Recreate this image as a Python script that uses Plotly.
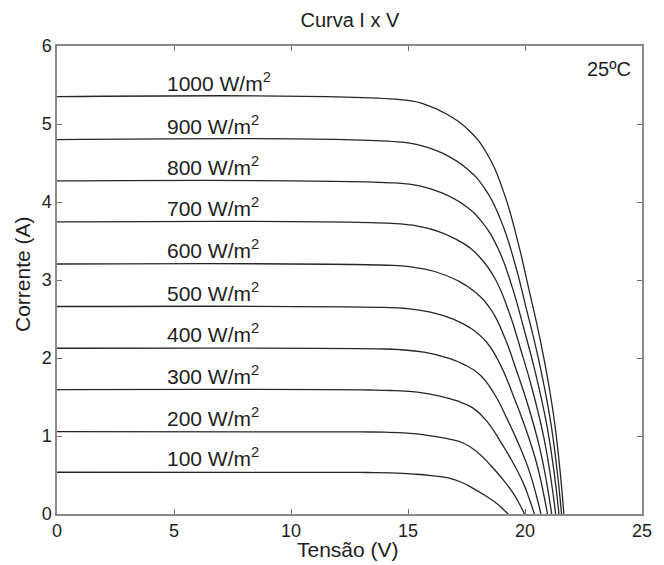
import plotly.graph_objects as go

# Irradiance levels (W/m^2)
irradiance = ["100", "200", "300", "400", "500", "600", "700", "800", "900", "1000"]

# Voltage (V) / current (A) points
v_100 = [0, 12.28, 13.28, 14.28, 15.28, 15.98, 16.68, 17.28, 17.78, 18.28, 18.78, 19.08, 19.28]
i_100 = [0.535, 0.534, 0.532, 0.527, 0.511, 0.493, 0.465, 0.407, 0.329, 0.241, 0.139, 0.059, 0]

v_200 = [0, 12.98, 13.98, 14.98, 15.98, 16.68, 17.38, 17.98, 18.48, 18.98, 19.48, 19.78, 19.98]
i_200 = [1.055, 1.052, 1.049, 1.036, 1.003, 0.966, 0.907, 0.790, 0.640, 0.471, 0.274, 0.118, 0]

v_300 = [0, 13.40, 14.40, 15.40, 16.40, 17.10, 17.80, 18.40, 18.90, 19.40, 19.90, 20.20, 20.40]
i_300 = [1.595, 1.590, 1.582, 1.562, 1.509, 1.450, 1.354, 1.177, 0.954, 0.705, 0.415, 0.180, 0]

v_400 = [0, 13.68, 14.68, 15.68, 16.68, 17.38, 18.08, 18.68, 19.18, 19.68, 20.18, 20.48, 20.68]
i_400 = [2.125, 2.117, 2.106, 2.074, 2.002, 1.919, 1.783, 1.545, 1.254, 0.931, 0.553, 0.244, 0]

v_500 = [0, 13.96, 14.96, 15.96, 16.96, 17.66, 18.36, 18.96, 19.46, 19.96, 20.46, 20.76, 20.96]
i_500 = [2.660, 2.649, 2.633, 2.588, 2.495, 2.386, 2.202, 1.905, 1.548, 1.154, 0.692, 0.311, 0]

v_600 = [0, 14.14, 15.14, 16.14, 17.14, 17.84, 18.54, 19.14, 19.64, 20.14, 20.64, 20.94, 21.14]
i_600 = [3.205, 3.189, 3.167, 3.109, 2.990, 2.852, 2.622, 2.256, 1.836, 1.381, 0.833, 0.378, 0]

v_700 = [0, 14.31, 15.31, 16.31, 17.31, 18.01, 18.71, 19.31, 19.81, 20.31, 20.81, 21.11, 21.31]
i_700 = [3.745, 3.726, 3.696, 3.621, 3.479, 3.311, 3.022, 2.595, 2.116, 1.599, 0.974, 0.449, 0]

v_800 = [0, 14.45, 15.45, 16.45, 17.45, 18.15, 18.85, 19.45, 19.95, 20.45, 20.95, 21.25, 21.45]
i_800 = [4.270, 4.244, 4.210, 4.116, 3.950, 3.749, 3.403, 2.912, 2.378, 1.806, 1.110, 0.521, 0]

v_900 = [0, 14.56, 15.56, 16.56, 17.56, 18.26, 18.96, 19.56, 20.06, 20.56, 21.06, 21.36, 21.56]
i_900 = [4.800, 4.771, 4.723, 4.613, 4.416, 4.181, 3.773, 3.221, 2.630, 2.011, 1.248, 0.590, 0]

v_1000 = [0, 14.66, 15.66, 16.66, 17.66, 18.36, 19.06, 19.66, 20.16, 20.66, 21.16, 21.46, 21.66]
i_1000 = [5.350, 5.313, 5.259, 5.125, 4.901, 4.628, 4.152, 3.531, 2.889, 2.220, 1.391, 0.669, 0]

x_ticks = [0, 5, 10, 15, 20, 25]
y_ticks = [0, 1, 2, 3, 4, 5, 6]

voltages = [v_100, v_200, v_300, v_400, v_500, v_600, v_700, v_800, v_900, v_1000]
currents = [i_100, i_200, i_300, i_400, i_500, i_600, i_700, i_800, i_900, i_1000]

FONT = "Liberation Sans, Arial, Helvetica, sans-serif"
TXT = "#1e1e1e"

fig = go.Figure()
for g, vs, cs in zip(irradiance, voltages, currents):
    fig.add_trace(go.Scatter(
        x=vs, y=cs, mode="lines", name=g + " W/m²",
        line=dict(color="#262626", width=1.3, shape="spline", smoothing=1.3),
        showlegend=False, hoverinfo="skip",
    ))
    fig.add_annotation(
        x=4.6, y=cs[0] + 0.19, xref="x", yref="y",
        text=g + " W/m<sup>2</sup>", showarrow=False,
        xanchor="left", yanchor="middle",
        font=dict(family=FONT, size=21, color=TXT),
    )

fig.add_annotation(x=0.984, y=0.951, xref="paper", yref="paper", text="25ºC",
                   showarrow=False, xanchor="right", yanchor="middle",
                   font=dict(family=FONT, size=20, color=TXT))
fig.add_annotation(x=0.497, y=-0.075, xref="paper", yref="paper", text="Tensão (V)",
                   showarrow=False, xanchor="center", yanchor="middle",
                   font=dict(family=FONT, size=21, color=TXT))
fig.add_annotation(x=-0.058, y=0.513, xref="paper", yref="paper", text="Corrente (A)",
                   showarrow=False, xanchor="center", yanchor="middle", textangle=-90,
                   font=dict(family=FONT, size=21, color=TXT))

axis_common = dict(
    showgrid=False, zeroline=False, showline=True, mirror="ticks",
    linecolor="#8a8a8a", linewidth=1.5, ticks="inside", ticklen=5,
    tickcolor="#707070", tickwidth=1,
    tickfont=dict(family=FONT, size=18, color=TXT),
)

fig.update_layout(
    width=664, height=565,
    margin=dict(l=57, r=13, t=46, b=51),
    paper_bgcolor="white", plot_bgcolor="white",
    title=dict(text="Curva I x V", x=0.527, y=0.965, xanchor="center", yanchor="middle",
               font=dict(family=FONT, size=20, color=TXT)),
    xaxis=dict(range=[0, 25], tickvals=x_ticks, **axis_common),
    yaxis=dict(range=[0, 6], tickvals=y_ticks, **axis_common),
)

fig.write_html("out.html")
